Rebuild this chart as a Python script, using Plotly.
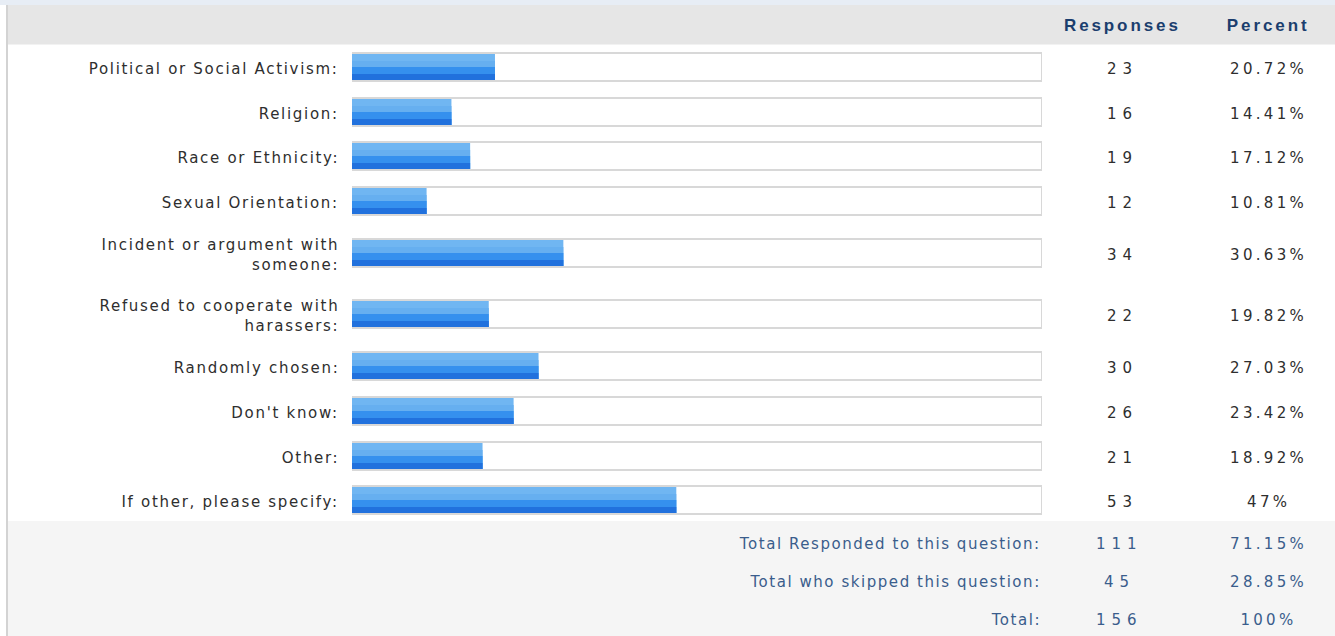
import plotly.graph_objects as go

# ---------------- data ----------------
categories = [
    "Political or Social Activism:",
    "Religion:",
    "Race or Ethnicity:",
    "Sexual Orientation:",
    "Incident or argument with<br>someone:",
    "Refused to cooperate with<br>harassers:",
    "Randomly chosen:",
    "Don't know:",
    "Other:",
    "If other, please specify:",
]
responses = [23, 16, 19, 12, 34, 22, 30, 26, 21, 53]
percents = [20.72, 14.41, 17.12, 10.81, 30.63, 19.82, 27.03, 23.42, 18.92, 47]
percent_labels = ["20.72%", "14.41%", "17.12%", "10.81%", "30.63%",
                  "19.82%", "27.03%", "23.42%", "18.92%", "47%"]
header_labels = ["Responses", "Percent"]
footer_labels = ["Total Responded to this question:",
                 "Total who skipped this question:",
                 "Total:"]
footer_counts = [111, 45, 156]
footer_percents = ["71.15%", "28.85%", "100%"]

# ---------------- layout helpers ----------------
W, H = 1335, 636
HEADER_BOTTOM = 44.6
ROW_SINGLE = 44.6
ROW_DOUBLE = 60.5
FOOTER_ROW = 38.0
TEXT_SHIFT = 1.5

centers = []
y0 = HEADER_BOTTOM
for c in categories:
    h = ROW_DOUBLE if "<br>" in c else ROW_SINGLE
    centers.append(round(y0 + h / 2))
    y0 += h
rows_bottom = y0
footer_centers = [round(rows_bottom + 20.6 + FOOTER_ROW * i) for i in range(len(footer_labels))]

BAR_LEFT, BAR_RIGHT = 352, 1042
RESP_X, PCT_X = 1122, 1268
LABEL_RIGHT = 341
FOOTER_LABEL_RIGHT = 1043


def px(x):
    return x / W


fig = go.Figure()

# track (empty bar outline, always 100 %)
fig.add_trace(go.Bar(
    x=[100] * len(categories), y=centers, orientation="h", width=28,
    marker=dict(color="white", line=dict(color="#d8d8d8", width=2)),
    hoverinfo="skip", showlegend=False,
))

# gradient bands of the filled bar (each band runs to the bar bottom, overlapping)
bands = [
    (-13, 26, "#70b6f2"),
    (-6, 19, "#66aff0"),
    (0, 13, "#3590ee"),
    (7, 6, "#2171dd"),
]
for off, wd, col in bands:
    fig.add_trace(go.Bar(
        x=percents, y=centers, orientation="h", width=wd, offset=off,
        marker=dict(color=col, line=dict(width=0)),
        hoverinfo="skip", showlegend=False,
    ))

annotations = []
spacing = []

label_font = dict(family="DejaVu Sans", size=15, color="#2e2e2e")
num_font = dict(family="DejaVu Sans", size=15, color="#2e2e2e")
head_font = dict(family="Liberation Sans", size=17, color="#1b3e6e")
foot_font = dict(family="DejaVu Sans", size=15, color="#3a5d8c")

# header
for txt, xc in zip(header_labels, [RESP_X, PCT_X]):
    annotations.append(dict(text="<b>%s</b>" % txt, x=px(xc), xref="paper", xanchor="center",
                            y=25, yref="y", yanchor="middle", showarrow=False,
                            font=head_font, align="center"))
    spacing.append(2.9)

# rows
for lab, yc, r, p in zip(categories, centers, responses, percent_labels):
    yt = yc + TEXT_SHIFT
    annotations.append(dict(text=lab, x=px(LABEL_RIGHT), xref="paper", xanchor="right",
                            y=yt, yref="y", yanchor="middle", showarrow=False,
                            font=label_font, align="right"))
    spacing.append(1.7)
    annotations.append(dict(text=str(r), x=px(RESP_X), xref="paper", xanchor="center",
                            y=yt, yref="y", yanchor="middle", showarrow=False,
                            font=num_font, align="center"))
    spacing.append(6)
    annotations.append(dict(text=p, x=px(PCT_X), xref="paper", xanchor="center",
                            y=yt, yref="y", yanchor="middle", showarrow=False,
                            font=num_font, align="center"))
    spacing.append(3.3)

# footer
for lab, yc, n, p in zip(footer_labels, footer_centers, footer_counts, footer_percents):
    yt = yc + 0.5
    annotations.append(dict(text=lab, x=px(FOOTER_LABEL_RIGHT), xref="paper", xanchor="right",
                            y=yt, yref="y", yanchor="middle", showarrow=False,
                            font=foot_font, align="right"))
    spacing.append(1.55)
    annotations.append(dict(text=str(n), x=px(RESP_X - 3), xref="paper", xanchor="center",
                            y=yt, yref="y", yanchor="middle", showarrow=False,
                            font=foot_font, align="center"))
    spacing.append(6)
    annotations.append(dict(text=p, x=px(PCT_X), xref="paper", xanchor="center",
                            y=yt, yref="y", yanchor="middle", showarrow=False,
                            font=foot_font, align="center"))
    spacing.append(3.3)

shapes = [
    # top light strip
    dict(type="rect", xref="paper", yref="y", x0=0, x1=1, y0=0, y1=5,
         fillcolor="#e7edf5", line=dict(width=0), layer="below"),
    # header band
    dict(type="rect", xref="paper", yref="y", x0=px(8), x1=1, y0=5, y1=HEADER_BOTTOM,
         fillcolor="#e6e6e6", line=dict(width=0), layer="below"),
    # footer band
    dict(type="rect", xref="paper", yref="y", x0=px(8), x1=1, y0=rows_bottom - 1.5, y1=H,
         fillcolor="#f5f5f5", line=dict(width=0), layer="below"),
    # left border
    dict(type="line", xref="paper", yref="y", x0=px(7), x1=px(7), y0=5, y1=H,
         line=dict(color="#d3d3d3", width=2), layer="below"),
]

fig.update_layout(
    width=W, height=H,
    margin=dict(l=0, r=0, t=0, b=0),
    paper_bgcolor="white", plot_bgcolor="rgba(0,0,0,0)",
    barmode="overlay",
    showlegend=False,
    xaxis=dict(domain=[px(BAR_LEFT), px(BAR_RIGHT)], range=[0, 100], visible=False,
               fixedrange=True),
    yaxis=dict(domain=[0, 1], range=[H, 0], visible=False, fixedrange=True),
    annotations=annotations,
    shapes=shapes,
)

css = "html,body{margin:0;padding:0;overflow:hidden;}" + "".join(
    '.annotation[data-index="%d"] .annotation-text{letter-spacing:%spx;}' % (i, s)
    for i, s in enumerate(spacing)
)
post = ("var st=document.createElement('style');st.textContent='%s';"
        "document.head.appendChild(st);" % css)

fig.write_html("out.html", config={"displayModeBar": False, "staticPlot": True},
               post_script=post)
